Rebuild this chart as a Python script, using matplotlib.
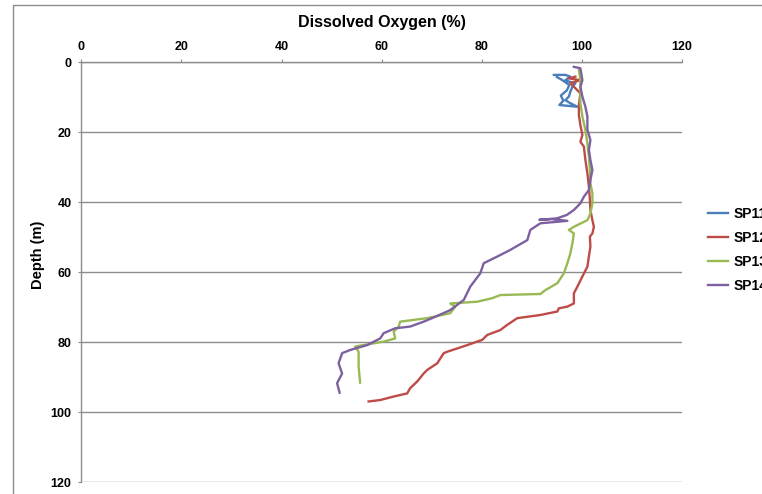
import matplotlib
matplotlib.use('Agg')
import matplotlib.pyplot as plt
from matplotlib.patches import Rectangle

plt.rcParams['font.family'] = ['Liberation Sans', 'DejaVu Sans']
plt.rcParams['font.weight'] = 'bold'

# depth (m) and dissolved oxygen (%)
sp11_depth = [3.6, 3.6, 4.1, 5.1, 5.5, 6.0, 7.0, 8.4, 9.8, 10.8, 11.7, 12.7, 12.2, 11.0, 9.5, 8.0, 6.5, 5.0, 4.2]
sp11_do = [94.4, 96.7, 97.7, 96.7, 97.4, 98.7, 98.1, 97.7, 97.4, 96.7, 97.7, 99.1, 95.5, 96.3, 95.8, 97.0, 97.5, 96.0, 95.0]

sp12_depth = [4.1, 4.6, 5.1, 6.0, 7.4, 8.9, 12.2, 15.1, 17.9, 20.8, 22.7, 24.1, 27.9, 31.7, 35.5, 39.3,
              42.2, 45.1, 47.0, 48.9, 49.8, 52.7, 55.5, 58.4, 61.2, 64.1, 66.0, 68.9, 69.8, 70.3, 71.2,
              72.2, 73.1, 75.0, 76.5, 77.9, 79.3, 80.8, 82.7, 83.1, 86.0, 87.9, 88.9, 91.2, 93.1, 94.6,
              95.5, 96.5, 96.9]
sp12_do = [98.7, 97.4, 99.7, 97.7, 98.7, 99.7, 99.4, 99.4, 99.7, 100.1, 99.7, 100.4, 100.7, 101.1, 101.4, 101.6,
           101.7, 102.1, 102.4, 102.1, 101.6, 101.7, 101.4, 101.1, 100.1, 99.1, 98.4, 98.4, 97.1, 95.4, 95.1,
           91.7, 87.1, 85.1, 83.7, 81.1, 80.1, 77.1, 73.1, 72.4, 71.1, 69.1, 68.4, 67.1, 65.7, 65.1,
           62.4, 59.7, 57.4]

sp13_depth = [2.2, 5.1, 8.9, 11.7, 15.5, 19.3, 23.2, 27.0, 30.8, 34.6, 37.4, 40.3, 43.2, 45.1, 46.5,
              47.0, 47.9, 48.9, 51.7, 54.6, 57.4, 60.3, 63.1, 65.1, 66.2, 66.5, 67.4, 68.4, 68.9, 69.8,
              71.7, 73.1, 74.1, 75.5, 77.0, 78.9, 79.8, 81.2, 82.7, 87.0, 91.5]
sp13_do = [99.4, 99.7, 99.7, 99.7, 100.1, 100.7, 101.1, 101.4, 101.6, 101.7, 102.1, 102.1, 101.7, 101.1, 99.1,
           98.4, 97.4, 98.4, 98.1, 97.7, 97.1, 96.4, 95.1, 92.7, 91.7, 83.7, 82.1, 79.1, 73.7, 74.7,
           73.7, 69.1, 63.7, 63.4, 62.4, 62.7, 60.4, 54.7, 55.4, 55.4, 55.7]

sp14_depth = [1.3, 1.7, 5.1, 7.0, 9.8, 12.7, 15.5, 19.3, 22.2, 25.0, 27.9, 30.8, 33.6, 36.5, 38.4, 40.3,
              42.2, 43.6, 44.6, 45.0, 44.8, 45.3, 46.0, 47.9, 50.8, 53.6, 55.5, 57.4, 60.3, 64.1, 67.9,
              70.8, 72.9, 74.1, 75.5, 76.0, 77.4, 78.9, 80.8, 82.2, 83.1, 86.0, 88.9, 91.7, 94.4]
sp14_do = [98.4, 99.7, 100.1, 99.7, 100.1, 100.7, 101.1, 101.1, 101.7, 101.4, 101.7, 102.1, 101.7, 101.4, 100.4, 99.7,
           98.4, 97.0, 95.0, 91.5, 94.0, 97.1, 91.7, 89.7, 89.1, 85.7, 83.1, 80.4, 79.7, 77.7, 76.4,
           73.7, 70.4, 68.4, 65.7, 62.7, 60.4, 59.7, 57.1, 53.7, 52.1, 51.4, 52.1, 51.1, 51.6]

series_names = ["SP11", "SP12", "SP13", "SP14"]
series_colors = ["#4A7EBB", "#BE4B48", "#98B954", "#7D60A0"]

W, H = 762, 494
fig = plt.figure(figsize=(W / 100, H / 100), dpi=100)
ax = fig.add_axes([81.3 / W, 1 - 482.3 / H, 600.7 / W, 420 / H])

# outer chart frame
fig.patches.append(Rectangle((13 / W, -0.05), 1.0, 1 - 5 / H + 0.05, transform=fig.transFigure,
                             fill=False, edgecolor="#8c8c8c", linewidth=1.0))

datas = [(sp11_do, sp11_depth), (sp12_do, sp12_depth), (sp13_do, sp13_depth), (sp14_do, sp14_depth)]
for (x, y), name, color in zip(datas, series_names, series_colors):
    ax.plot(x, y, color=color, linewidth=1.7, label=name, solid_joinstyle="round")

ax.set_xlim(0, 120)
ax.set_ylim(120, 0)
ax.set_xticks(range(0, 121, 20))
ax.set_yticks(range(0, 121, 20))
ax.xaxis.tick_top()
ax.yaxis.grid(True, color="#8c8c8c", linewidth=1.0)
ax.set_axisbelow(True)
for side in ["right", "bottom"]:
    ax.spines[side].set_visible(False)
for side in ["top", "left"]:
    ax.spines[side].set_color("#8c8c8c")
    ax.spines[side].set_linewidth(1.0)
ax.tick_params(axis="both", length=2.5, color="#8c8c8c", labelsize=9, pad=4.5)
for lbl in ax.get_xticklabels() + ax.get_yticklabels():
    lbl.set_fontweight("bold")

fig.text(381.6 / W, 1 - 23 / H, "Dissolved Oxygen (%)", fontsize=11.5, fontweight="bold",
         ha="center", va="center")
fig.text(38 / W, 1 - 255 / H, "Depth (m)", fontsize=10.5, fontweight="bold",
         ha="center", va="center", rotation=90)

fig.legend(loc="upper left", bbox_to_anchor=(702 / W, 1 - 201 / H), frameon=False,
           prop={"size": 10, "weight": "bold"}, handlelength=1.5, handletextpad=0.35,
           labelspacing=0.72, borderaxespad=0)

fig.savefig("out.png", dpi=100)
